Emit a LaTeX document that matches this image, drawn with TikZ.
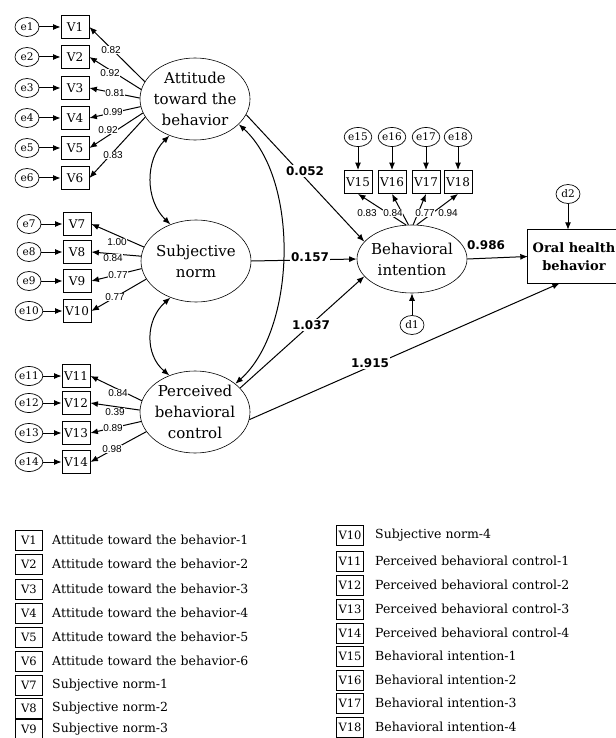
\documentclass[tikz,border=0pt]{standalone}
\usepackage{fontspec}
\setmainfont{DejaVu Serif}
\newfontfamily\numfont{Liberation Sans}
\newfontfamily\boldnum{DejaVu Sans}
\usetikzlibrary{shapes.geometric,arrows.meta,calc}
\begin{document}
\begin{tikzpicture}[x=1pt,y=-1pt]
\tikzset{
 lat/.style={ellipse, draw, line width=0.6pt, minimum width=110pt, minimum height=82pt, inner sep=-6pt, align=center, font=\fontsize{15}{21}\selectfont},
 obs/.style={rectangle, draw, line width=0.8pt, minimum width=28pt, minimum height=23pt, inner sep=1pt, font=\fontsize{12}{13}\selectfont},
 err/.style={ellipse, draw, line width=0.7pt, minimum width=24pt, minimum height=19pt, inner sep=0pt, font=\fontsize{10.5}{11}\selectfont},
 arr/.style={line width=1pt, -{Latex[length=7.5pt,width=6pt]}},
 biarr/.style={line width=1pt, {Latex[length=7.5pt,width=6pt]}-{Latex[length=7.5pt,width=6pt]}},
 ld/.style={fill=white, inner sep=0.3pt, font=\numfont\fontsize{10}{11}\selectfont},
 pl/.style={fill=white, inner sep=1pt, font=\boldnum\bfseries\fontsize{12}{13}\selectfont},
 lgbox/.style={rectangle, draw, line width=0.8pt, minimum width=27pt, minimum height=20pt, inner sep=1pt, font=\fontsize{11.5}{12}\selectfont},
 lgtxt/.style={anchor=west, inner sep=0pt, font=\fontsize{12.5}{13}\selectfont},
}
\useasboundingbox (0,0) rectangle (615,738);

% latent variables
\node[lat] (att) at (195,99) {Attitude\\toward the\\behavior};
\node[lat] (sn) at (196,261) {Subjective\\norm};
\node[lat] (pbc) at (195,412) {Perceived\\behavioral\\control};
\node[lat, minimum height=68pt] (bi) at (412,259) {Behavioral\\intention};

% outcome
\node[minimum width=92pt, minimum height=53pt, inner sep=0pt, align=center,
      font=\bfseries\fontsize{13}{18}\selectfont] (ohb) at (574,256.5) {Oral health\\behavior};
\draw[line width=0.8pt] (ohb.south west) rectangle ($(ohb.north east)+(20,0)$);

% attitude indicators
\foreach \i/\y in {1/27,2/57,3/88,4/118,5/148,6/178}{
  \node[obs] (v\i) at (75,\y) {V\i};
  \node[err] (e\i) at (27,\y) {e\i};
  \draw[arr] (e\i) -- (v\i);
}
% subjective norm indicators
\foreach \i/\y in {7/224,8/252,9/281,10/311}{
  \node[obs] (v\i) at (77,\y) {V\i};
  \node[err] (e\i) at (29,\y) {e\i};
  \draw[arr] (e\i) -- (v\i);
}
% pbc indicators
\foreach \i/\y in {11/376,12/403,13/433,14/462}{
  \node[obs] (v\i) at (76,\y) {V\i};
  \node[err] (e\i) at (29,\y) {e\i};
  \draw[arr] (e\i) -- (v\i);
}
% intention indicators
\foreach \i/\x in {15/358,16/392,17/426,18/458}{
  \node[obs] (v\i) at (\x,182) {V\i};
  \node[err] (e\i) at (\x,137) {e\i};
  \draw[arr] (e\i) -- (v\i);
}
\node[err] (d1) at (412,325) {d1};
\node[err] (d2) at (568,194) {d2};

% loadings
\draw[arr] (att.161) -- (v1.east);
\draw[arr] (att.170) -- (v2.east);
\draw[arr] (att.179) -- (v3.east);
\draw[arr] (att.188) -- (v4.east);
\draw[arr] (att.195) -- (v5.east);
\draw[arr] (att.200) -- (v6.east);
\node[ld] (l1) at (111,50) {0.82};
\node[ld] (l2) at (110,73) {0.92};
\node[ld] (l3) at (115,93) {0.81};
\node[ld] (l4) at (113,112) {0.99};
\node[ld] (l5) at (108,130) {0.92};
\node[ld] (l6) at (113,155) {0.83};

\draw[arr] (sn.165) -- (v7.east);
\draw[arr] (sn.175) -- (v8.east);
\draw[arr] (sn.188) -- (v9.east);
\draw[arr] (sn.200) -- (v10.east);
\node[ld] (l7) at (117,242) {1.00};
\node[ld] (l8) at (113,258) {0.84};
\node[ld] (l9) at (118,275) {0.77};
\node[ld] (l10) at (115,297) {0.77};

\draw[arr] (pbc.168) -- (v11.east);
\draw[arr] (pbc.178) -- (v12.east);
\draw[arr] (pbc.190) -- (v13.east);
\draw[arr] (pbc.202) -- (v14.east);
\node[ld] (l11) at (118,393) {0.84};
\node[ld] (l12) at (115,412) {0.39};
\node[ld] (l13) at (113,428) {0.89};
\node[ld] (l14) at (112,449) {0.98};

\draw[arr] (bi.100) -- (v15.south);
\draw[arr] (bi.96) -- (v16.south);
\draw[arr] (bi.88) -- (v17.south);
\draw[arr] (bi.82) -- (v18.south);
\node[ld] (l15) at (367,213) {0.83};
\node[ld] (l16) at (393,213) {0.84};
\node[ld] (l17) at (425,213) {0.77};
\node[ld] (l18) at (448,213) {0.94};

% disturbances
\draw[arr] (d1) -- (bi.south);
\draw[arr] (d2) -- (d2 |- ohb.north);

% covariances
\draw[biarr] (att.-125) .. controls (145,160) and (145,200) .. (sn.125);
\draw[biarr] (sn.-125) .. controls (145,320) and (145,355) .. (pbc.125);
\draw[biarr] (att.-30) .. controls (300,180) and (296,330) .. (pbc.35);

% structural paths
\draw[arr] (att.-17) -- (bi.160);
\draw[arr] (sn.east) -- (bi.west);
\draw[arr] (pbc.28) -- (bi.200);
\draw[arr] (pbc.-8) -- (ohb.-118);
\draw[arr] (bi.east) -- (ohb.west);
\node[pl] (p1) at (305,171) {0.052};
\node[pl] (p2) at (310,257) {0.157};
\node[pl] (p3) at (311,325) {1.037};
\node[pl] (p4) at (370,363) {1.915};
\node[pl, fill=none] (p5) at (486,245) {0.986};

% legend left
\foreach \i/\y/\t in {1/540/Attitude toward the behavior-1,
                      2/564/Attitude toward the behavior-2,
                      3/589/Attitude toward the behavior-3,
                      4/613/Attitude toward the behavior-4,
                      5/637/Attitude toward the behavior-5,
                      6/661/Attitude toward the behavior-6,
                      7/685/Subjective norm-1,
                      8/708/Subjective norm-2,
                      9/729/Subjective norm-3}{
  \node[lgbox] (k\i) at (29,\y) {V\i};
  \node[lgtxt] (t\i) at (52,\y) {\t};
}
% legend right
\foreach \i/\y/\t in {10/535/Subjective norm-4,
                      11/561/Perceived behavioral control-1,
                      12/585/Perceived behavioral control-2,
                      13/609/Perceived behavioral control-3,
                      14/633/Perceived behavioral control-4,
                      15/656/Behavioral intention-1,
                      16/680/Behavioral intention-2,
                      17/703/Behavioral intention-3,
                      18/727/Behavioral intention-4}{
  \node[lgbox] (k\i) at (350,\y) {V\i};
  \node[lgtxt] (t\i) at (375,\y) {\t};
}
\end{tikzpicture}
\end{document}
